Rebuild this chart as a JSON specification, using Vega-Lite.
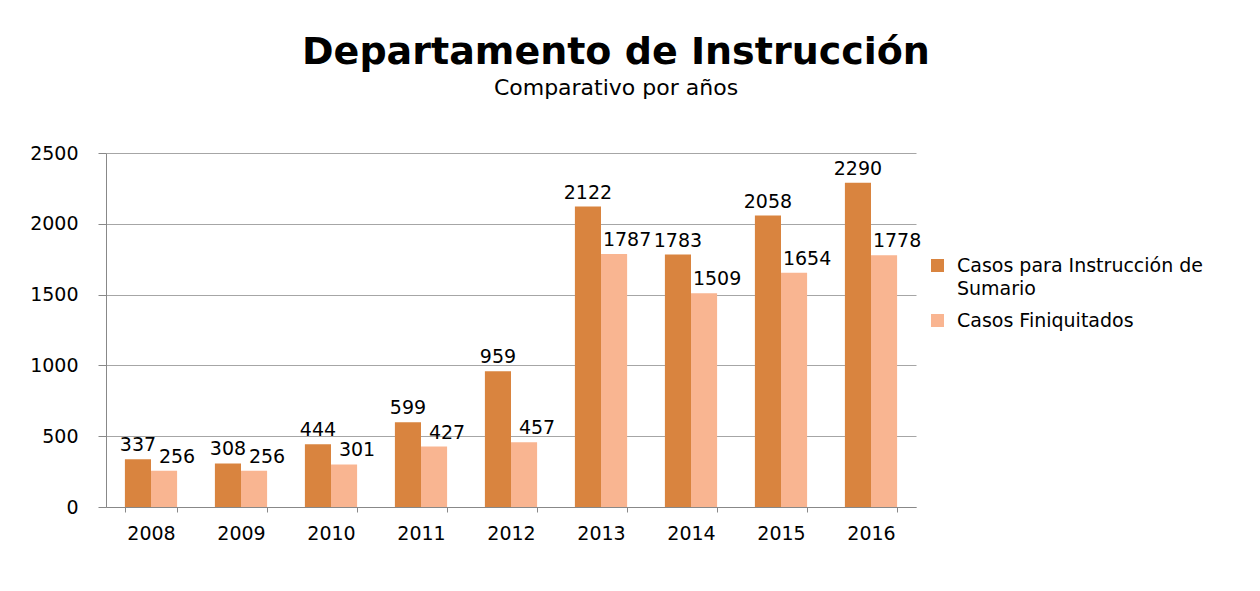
{
  "$schema": "https://vega.github.io/schema/vega-lite/v6.json",
  "width": 810,
  "height": 354,
  "padding": {"left": 29, "top": 34, "right": 5, "bottom": 5},
  "background": "white",
  "title": {
    "text": "Departamento de Instrucción",
    "subtitle": "Comparativo por años",
    "anchor": "middle",
    "dx": 105,
    "font": "DejaVu Sans",
    "fontSize": 38,
    "fontWeight": "bold",
    "color": "black",
    "subtitleFont": "DejaVu Sans",
    "subtitleFontSize": 22,
    "subtitleColor": "black",
    "subtitlePadding": 6,
    "offset": 45
  },
  "config": {
    "font": "DejaVu Sans",
    "view": {"stroke": null},
    "style": {"guide-label": {"lineHeight": 23}}
  },
  "data": {
    "values": [
      {"year": "2008", "serie": "Casos para Instrucción de Sumario", "value": 337},
      {"year": "2008", "serie": "Casos Finiquitados", "value": 256},
      {"year": "2009", "serie": "Casos para Instrucción de Sumario", "value": 308},
      {"year": "2009", "serie": "Casos Finiquitados", "value": 256},
      {"year": "2010", "serie": "Casos para Instrucción de Sumario", "value": 444},
      {"year": "2010", "serie": "Casos Finiquitados", "value": 301},
      {"year": "2011", "serie": "Casos para Instrucción de Sumario", "value": 599},
      {"year": "2011", "serie": "Casos Finiquitados", "value": 427},
      {"year": "2012", "serie": "Casos para Instrucción de Sumario", "value": 959},
      {"year": "2012", "serie": "Casos Finiquitados", "value": 457},
      {"year": "2013", "serie": "Casos para Instrucción de Sumario", "value": 2122},
      {"year": "2013", "serie": "Casos Finiquitados", "value": 1787},
      {"year": "2014", "serie": "Casos para Instrucción de Sumario", "value": 1783},
      {"year": "2014", "serie": "Casos Finiquitados", "value": 1509},
      {"year": "2015", "serie": "Casos para Instrucción de Sumario", "value": 2058},
      {"year": "2015", "serie": "Casos Finiquitados", "value": 1654},
      {"year": "2016", "serie": "Casos para Instrucción de Sumario", "value": 2290},
      {"year": "2016", "serie": "Casos Finiquitados", "value": 1778}
    ]
  },
  "encoding": {
    "x": {
      "field": "year",
      "type": "nominal",
      "scale": {"paddingInner": 0.42, "paddingOuter": 0.21},
      "axis": {
        "title": null,
        "labelAngle": 0,
        "labelFontSize": 19,
        "labelColor": "black",
        "labelPadding": 12,
        "tickBand": "extent",
        "tickSize": 5,
        "tickColor": "#888888",
        "domainColor": "#888888",
        "grid": false
      }
    },
    "xOffset": {
      "field": "serie",
      "type": "nominal",
      "sort": ["Casos para Instrucción de Sumario", "Casos Finiquitados"]
    },
    "y": {
      "field": "value",
      "type": "quantitative",
      "scale": {"domain": [0, 2500], "nice": false},
      "axis": {
        "title": null,
        "values": [0, 500, 1000, 1500, 2000, 2500],
        "format": "d",
        "labelFontSize": 19,
        "labelColor": "black",
        "labelPadding": 20,
        "tickSize": 8,
        "tickColor": "#888888",
        "domainColor": "#888888",
        "gridColor": "#A6A6A6",
        "labelBaseline": "middle"
      }
    },
    "color": {
      "field": "serie",
      "type": "nominal",
      "sort": ["Casos para Instrucción de Sumario", "Casos Finiquitados"],
      "scale": {
        "domain": ["Casos para Instrucción de Sumario", "Casos Finiquitados"],
        "range": ["#D9843F", "#F9B591"]
      },
      "legend": {
        "title": null,
        "orient": "none",
        "legendX": 822,
        "legendY": 103,
        "symbolType": "square",
        "symbolSize": 169,
        "symbolStrokeWidth": 0,
        "labelFontSize": 19,
        "labelColor": "black",
        "labelOffset": 10,
        "labelLimit": 400,
        "rowPadding": 12,
        "labelExpr": "datum.label == 'Casos para Instrucción de Sumario' ? ['Casos para Instrucción de', 'Sumario'] : datum.label"
      }
    }
  },
  "layer": [
    {"mark": {"type": "bar"}},
    {
      "transform": [{"filter": "datum.serie == 'Casos para Instrucción de Sumario'"}],
      "mark": {"type": "text", "baseline": "alphabetic", "dy": -8, "fontSize": 19, "color": "black"},
      "encoding": {"text": {"field": "value", "type": "quantitative"}, "color": {"value": "black"}}
    },
    {
      "transform": [{"filter": "datum.serie == 'Casos Finiquitados'"}],
      "mark": {"type": "text", "baseline": "alphabetic", "dx": 13, "dy": -8, "fontSize": 19, "color": "black"},
      "encoding": {"text": {"field": "value", "type": "quantitative"}, "color": {"value": "black"}}
    }
  ]
}
